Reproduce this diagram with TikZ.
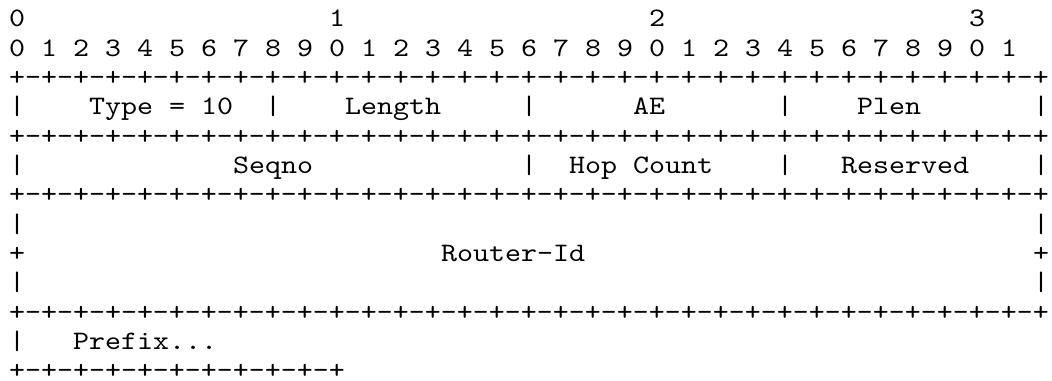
\documentclass[tikz,border=0pt]{standalone}
\usepackage{fontspec}
\newfontfamily\courfont[Extension=.otf,FakeStretch=1.142857]{lmmono10-regular}
\begin{document}
\begin{tikzpicture}[x=0.75pt,y=-0.75pt,
  txt/.style={anchor=base west,inner sep=0pt,outer sep=0pt,font=\courfont\fontsize{20pt}{22pt}\selectfont,text=black}]
\useasboundingbox (0,0) rectangle (1052,381);
\def\rowy#1{27+29.3*#1}
\def\colx#1{9+16*#1}
\def\rule{+-+-+-+-+-+-+-+-+-+-+-+-+-+-+-+-+-+-+-+-+-+-+-+-+-+-+-+-+-+-+-+-+}
% row 0
\node[txt] (h0) at ({\colx{0}},{\rowy{0}}) {0};
\node[txt] (h1) at ({\colx{20}},{\rowy{0}}) {1};
\node[txt] (h2) at ({\colx{40}},{\rowy{0}}) {2};
\node[txt] (h3) at ({\colx{60}},{\rowy{0}}) {3};
% row 1
\foreach \c [count=\i from 0] in {0,1,2,3,4,5,6,7,8,9,0,1,2,3,4,5,6,7,8,9,0,1,2,3,4,5,6,7,8,9,0,1}
  \node[txt] (d\i) at ({\colx{2*\i}},{\rowy{1}}) {\c};
% rules
\node[txt] (r2) at ({\colx{0}},{\rowy{2}}) {\rule};
\node[txt] (r4) at ({\colx{0}},{\rowy{4}}) {\rule};
\node[txt] (r6) at ({\colx{0}},{\rowy{6}}) {\rule};
\node[txt] (r10) at ({\colx{0}},{\rowy{10}}) {\rule};
\node[txt] (r12) at ({\colx{0}},{\rowy{12}}) {+-+-+-+-+-+-+-+-+-+-+};
% row 3
\foreach \c in {0,16,32,48,64} \node[txt] (b3-\c) at ({\colx{\c}},{\rowy{3}}) {|};
\node[txt] (type) at ({\colx{5}},{\rowy{3}}) {Type = 10};
\node[txt] (len) at ({\colx{21}},{\rowy{3}}) {Length};
\node[txt] (ae) at ({\colx{39}},{\rowy{3}}) {AE};
\node[txt] (plen) at ({\colx{53}},{\rowy{3}}) {Plen};
% row 5
\foreach \c in {0,32,48,64} \node[txt] (b5-\c) at ({\colx{\c}},{\rowy{5}}) {|};
\node[txt] (seq) at ({\colx{14}},{\rowy{5}}) {Seqno};
\node[txt] (hop) at ({\colx{35}},{\rowy{5}}) {Hop Count};
\node[txt] (res) at ({\colx{52}},{\rowy{5}}) {Reserved};
% rows 7-9
\foreach \c in {0,64} {
  \node[txt] (b7-\c) at ({\colx{\c}},{\rowy{7}}) {|};
  \node[txt] (b8-\c) at ({\colx{\c}},{\rowy{8}}) {+};
  \node[txt] (b9-\c) at ({\colx{\c}},{\rowy{9}}) {|};
}
\node[txt] (rid) at ({\colx{27}},{\rowy{8}}) {Router-Id};
% row 11
\node[txt] (b11) at ({\colx{0}},{\rowy{11}}) {|};
\node[txt] (pfx) at ({\colx{4}},{\rowy{11}}) {Prefix...};
\end{tikzpicture}
\end{document}
